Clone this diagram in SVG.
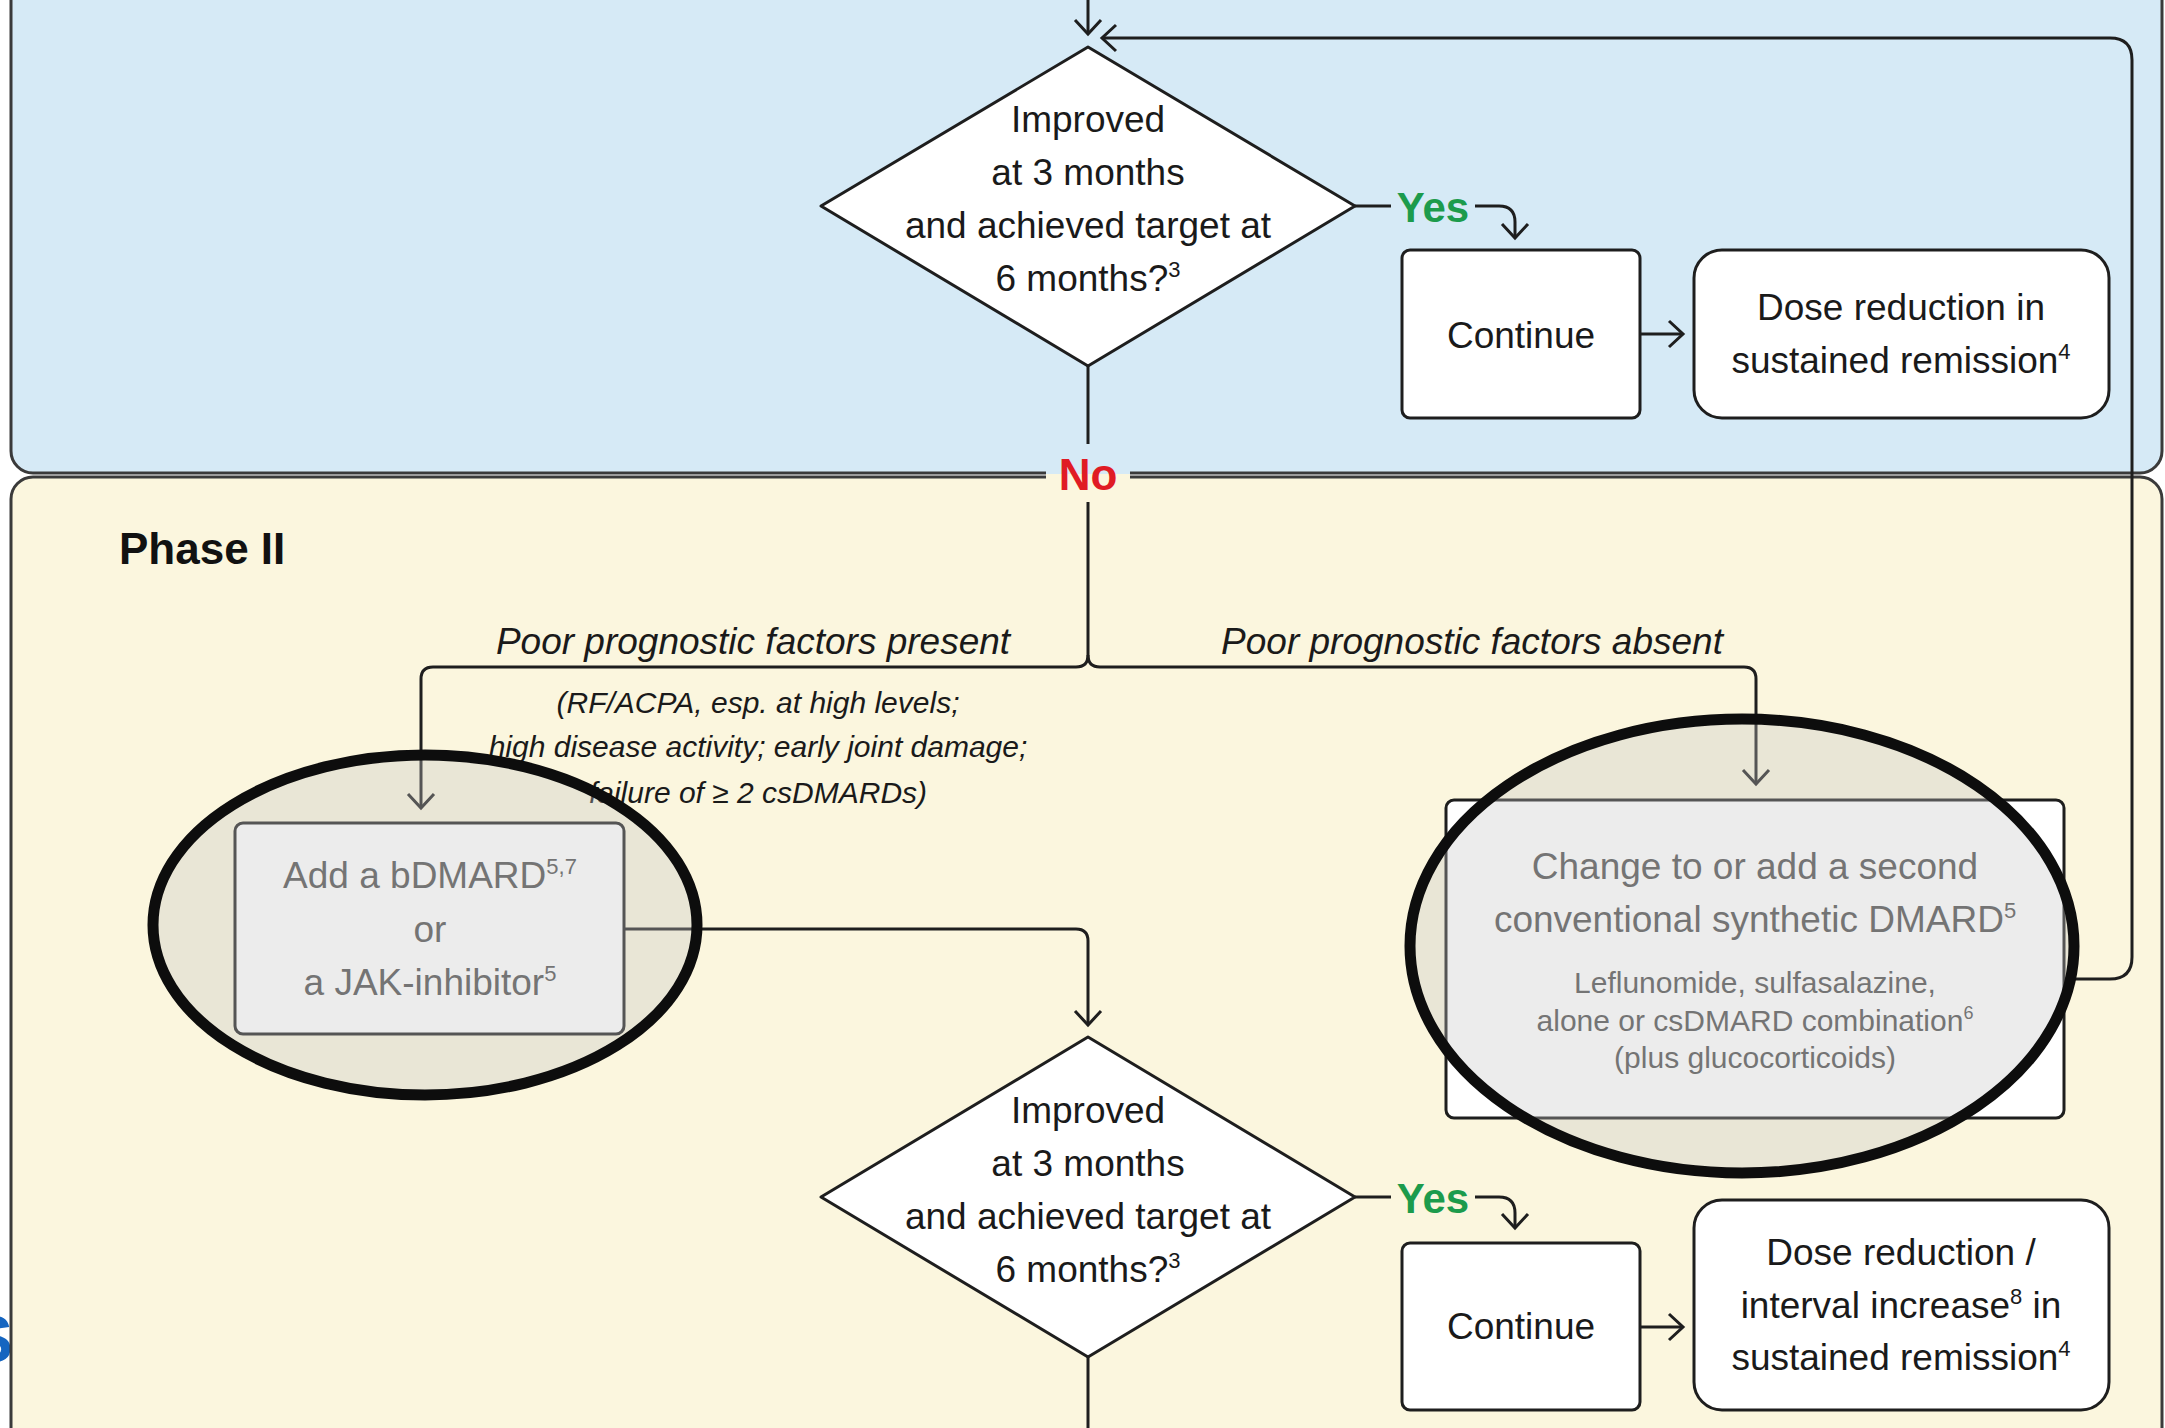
<svg xmlns="http://www.w3.org/2000/svg" width="2165" height="1428" viewBox="0 0 2165 1428">
  <defs>
    <style>
      .panel { stroke: #3a3a3a; stroke-width: 3; }
      .blue { fill: #d6eaf6; }
      .beige { fill: #fbf6de; }
      .box { fill: #ffffff; stroke: #1e1e1e; stroke-width: 3; }
      .diamond { fill: #ffffff; stroke: #1e1e1e; stroke-width: 3; stroke-linejoin: round; }
      .wire { fill: none; stroke: #1e1e1e; stroke-width: 3; }
      .t { font-family: "Liberation Sans", Arial, sans-serif; font-size: 37px; fill: #1a1a1a; text-anchor: middle; }
      .sm { font-size: 30px; }
      .it { font-style: italic; }
      .muted { fill: #4d4d4d; }
      .yes { font-family: "Liberation Sans", Arial, sans-serif; font-weight: bold; font-size: 42px; fill: #1c9b4c; text-anchor: middle; }
      .no { font-family: "Liberation Sans", Arial, sans-serif; font-weight: bold; font-size: 44px; fill: #e01b24; text-anchor: middle; }
      .sup { font-size: 22px; }
      .ring { fill: #c4c4c4; fill-opacity: 0.33; stroke: #0d0d0d; stroke-width: 11; }
    </style>
    <marker id="arr" viewBox="-18 -16 20 32" refX="0" refY="0" markerWidth="20" markerHeight="32" markerUnits="userSpaceOnUse" orient="auto" overflow="visible">
      <path d="M-14,-13 L0,0 L-14,13" fill="none" stroke="#1e1e1e" stroke-width="3" stroke-linejoin="miter"/>
    </marker>
  </defs>

  <!-- stray edge glyph at the left margin -->
  <text x="-31" y="1362" font-family="Liberation Sans, Arial, sans-serif" font-weight="bold" font-size="66" fill="#1565c0">S</text>

  <!-- phase panels -->
  <g id="phase1-panel">
    <rect class="panel blue" x="11" y="-60" width="2151" height="533" rx="22"/>
  </g>
  <g id="phase2-panel">
    <rect class="panel beige" x="11" y="477" width="2151" height="1000" rx="22"/>
    <text x="119" y="564" font-family="Liberation Sans, Arial, sans-serif" font-weight="bold" font-size="44" fill="#111">Phase II</text>
  </g>

  <!-- connectors -->
  <g id="connectors">
    <path class="wire" d="M1088,-5 V34" marker-end="url(#arr)"/>
    <path class="wire" d="M2064,979 H2110 Q2132,979 2132,957 V60 Q2132,38 2110,38 H1102" marker-end="url(#arr)"/>
    <path class="wire" d="M1355,206 H1391"/>
    <path class="wire" d="M1475,206 H1499 Q1515,206 1515,222 V238" marker-end="url(#arr)"/>
    <path class="wire" d="M1640,334 H1683" marker-end="url(#arr)"/>
    <path class="wire" d="M1088,366 V446"/>
    <path class="wire" d="M1088,500 V655 Q1088,667 1076,667 H433 Q421,667 421,679 V808" marker-end="url(#arr)"/>
    <path class="wire" d="M1088,655 Q1088,667 1100,667 H1744 Q1756,667 1756,679 V784" marker-end="url(#arr)"/>
    <path class="wire" d="M624,929 H1076 Q1088,929 1088,941 V1025" marker-end="url(#arr)"/>
    <path class="wire" d="M1355,1197 H1391"/>
    <path class="wire" d="M1475,1197 H1499 Q1515,1197 1515,1213 V1228" marker-end="url(#arr)"/>
    <path class="wire" d="M1640,1327 H1683" marker-end="url(#arr)"/>
    <path class="wire" d="M1088,1357 V1432"/>
  </g>

  <!-- branch labels -->
  <g id="label-yes-1"><text class="yes" x="1433" y="222">Yes</text></g>
  <g id="label-no">
    <rect x="1046" y="444" width="84" height="30" class="blue"/>
    <rect x="1046" y="474" width="84" height="28" class="beige"/>
    <text class="no" x="1088" y="490">No</text>
  </g>
  <g id="label-present">
    <text class="t it" x="753" y="654">Poor prognostic factors present</text>
    <text class="t it sm" x="758" y="713" fill="#2a2a2a">(RF/ACPA, esp. at high levels;</text>
    <text class="t it sm" x="758" y="757" fill="#2a2a2a">high disease activity; early joint damage;</text>
    <text class="t it sm" x="758" y="803" fill="#2a2a2a">failure of ≥ 2 csDMARDs)</text>
  </g>
  <g id="label-absent"><text class="t it" x="1472" y="654">Poor prognostic factors absent</text></g>
  <g id="label-yes-2"><text class="yes" x="1433" y="1213">Yes</text></g>

  <!-- decision: phase I -->
  <g id="decision-1">
    <path class="diamond" d="M1088,47 L1355,206 L1088,366 L821,206 Z"/>
    <text class="t" x="1088" y="132">Improved</text>
    <text class="t" x="1088" y="185">at 3 months</text>
    <text class="t" x="1088" y="238">and achieved target at</text>
    <text class="t" x="1088" y="291">6 months?<tspan class="sup" dy="-14">3</tspan></text>
  </g>

  <g id="continue-1">
    <rect class="box" x="1402" y="250" width="238" height="168" rx="8"/>
    <text class="t" x="1521" y="348">Continue</text>
  </g>

  <g id="dose-reduction-1">
    <rect class="box" x="1694" y="250" width="415" height="168" rx="28"/>
    <text class="t" x="1901" y="320">Dose reduction in</text>
    <text class="t" x="1901" y="373">sustained remission<tspan class="sup" dy="-14">4</tspan></text>
  </g>

  <!-- phase II treatment options -->
  <g id="add-bdmard">
    <rect class="box" x="235" y="823" width="389" height="211" rx="8" stroke="#555"/>
    <text class="t muted" x="430" y="888">Add a bDMARD<tspan class="sup" dy="-14">5,7</tspan></text>
    <text class="t muted" x="430" y="942">or</text>
    <text class="t muted" x="430" y="995">a JAK-inhibitor<tspan class="sup" dy="-14">5</tspan></text>
  </g>

  <g id="change-csdmard">
    <rect class="box" x="1446" y="800" width="618" height="318" rx="8"/>
    <text class="t muted" x="1755" y="879">Change to or add a second</text>
    <text class="t muted" x="1755" y="932">conventional synthetic DMARD<tspan class="sup" dy="-14">5</tspan></text>
    <text class="t sm muted" x="1755" y="993">Leflunomide, sulfasalazine,</text>
    <text class="t sm muted" x="1755" y="1031">alone or csDMARD combination<tspan style="font-size:18px" dy="-12">6</tspan></text>
    <text class="t sm muted" x="1755" y="1068">(plus glucocorticoids)</text>
  </g>

  <!-- decision: phase II -->
  <g id="decision-2">
    <path class="diamond" d="M1088,1037 L1355,1197 L1088,1357 L821,1197 Z"/>
    <text class="t" x="1088" y="1123">Improved</text>
    <text class="t" x="1088" y="1176">at 3 months</text>
    <text class="t" x="1088" y="1229">and achieved target at</text>
    <text class="t" x="1088" y="1282">6 months?<tspan class="sup" dy="-14">3</tspan></text>
  </g>

  <g id="continue-2">
    <rect class="box" x="1402" y="1243" width="238" height="167" rx="8"/>
    <text class="t" x="1521" y="1339">Continue</text>
  </g>

  <g id="dose-reduction-2">
    <rect class="box" x="1694" y="1200" width="415" height="210" rx="28"/>
    <text class="t" x="1901" y="1265">Dose reduction /</text>
    <text class="t" x="1901" y="1318">interval increase<tspan class="sup" dy="-14">8</tspan><tspan dy="14"> in</tspan></text>
    <text class="t" x="1901" y="1370">sustained remission<tspan class="sup" dy="-14">4</tspan></text>
  </g>

  <!-- highlight rings -->
  <g id="highlight-rings">
    <ellipse class="ring" cx="425" cy="925" rx="272" ry="170"/>
    <ellipse class="ring" cx="1742" cy="946" rx="332" ry="227"/>
  </g>
</svg>
